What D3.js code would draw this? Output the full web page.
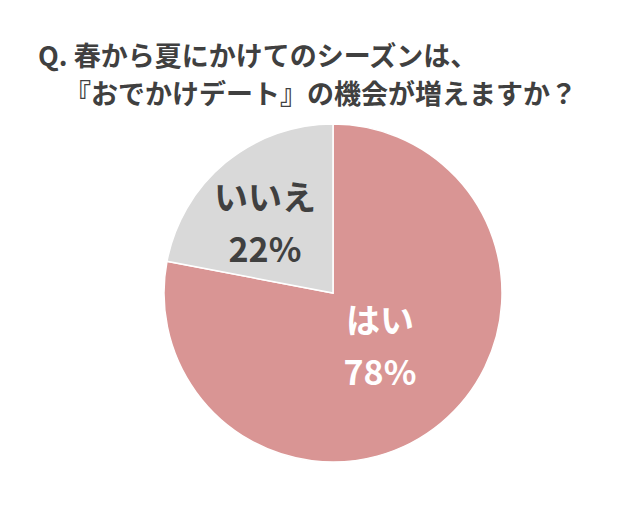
<!DOCTYPE html>
<html><head><meta charset="utf-8">
<script src="https://cdn.jsdelivr.net/npm/d3@7"></script>
<style>body{margin:0;background:#fff}</style></head>
<body><svg id="c" width="640" height="511"></svg>
<script>
const categories = ["はい", "いいえ"];
const values = [78, 22];
const colors = ["#D99594", "#D9D9D9"];
const titleLines = ["Q. 春から夏にかけてのシーズンは、", "『おでかけデート』の機会が増えますか？"];

const svg = d3.select("#c");
const font = "'Noto Sans CJK JP', sans-serif";
svg.append("text").attr("x", 38).attr("y", 66).attr("font-family", font).attr("font-weight", "bold")
  .attr("font-size", 27).attr("fill", "#404040").text(titleLines[0]);
svg.append("text").attr("x", 64).attr("y", 104).attr("font-family", font).attr("font-weight", "bold")
  .attr("font-size", 27).attr("fill", "#404040").text(titleLines[1]);

const cx = 333, cy = 293, r = 169;
const g = svg.append("g").attr("transform", `translate(${cx},${cy})`);
const pie = d3.pie().sort(null).value(d => d)(values);
const arc = d3.arc().innerRadius(0).outerRadius(r);
g.selectAll("path").data(pie).join("path").attr("d", arc)
  .attr("fill", (d, i) => colors[i]).attr("stroke", "#fff").attr("stroke-width", 1.5);

const labelPos = [[47, 40], [-68, -83]];
const labelColors = ["#fff", "#404040"];
pie.forEach((d, i) => {
  const [x, y] = labelPos[i];
  const t = g.append("text").attr("text-anchor", "middle").attr("font-family", font)
    .attr("font-weight", "bold").attr("font-size", 34).attr("fill", labelColors[i]);
  t.append("tspan").attr("x", x).attr("y", y).text(categories[i]);
  t.append("tspan").attr("x", x).attr("y", y + 52).text(values[i] + "%");
});
</script></body></html>
